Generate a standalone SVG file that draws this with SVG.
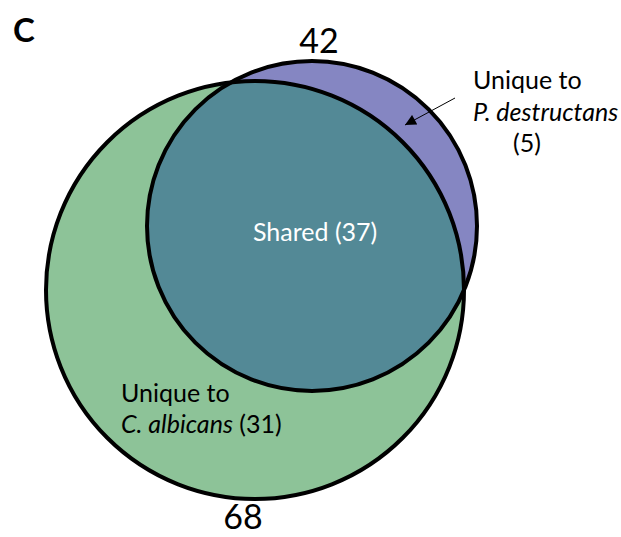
<svg xmlns="http://www.w3.org/2000/svg" width="621" height="537" viewBox="0 0 621 537">
  <style>
    .lbl { font-family: Lato, "Liberation Sans", sans-serif; font-size: 25px; fill: #000; }
    .num { font-family: Lato, "Liberation Sans", sans-serif; font-size: 34px; fill: #000; text-anchor: middle; }
    .it { font-style: italic; }
    .outline { fill: none; stroke: #000; stroke-width: 4; }
  </style>
  <defs>
    <clipPath id="clipGreen">
      <circle cx="255" cy="290" r="209"/>
    </clipPath>
    <marker id="arrow" viewBox="0 0 10 10" refX="10" refY="5" markerWidth="13" markerHeight="11" markerUnits="userSpaceOnUse" orient="auto">
      <path d="M0,0 L10,5 L0,10 Z" fill="#000"/>
    </marker>
  </defs>
  <rect width="621" height="537" fill="#fff"/>
  <text x="13" y="42" style="font-family: Lato, 'Liberation Sans', sans-serif; font-size: 33px; font-weight: bold;">C</text>

  <g id="calbicans">
    <circle cx="255" cy="290" r="209" fill="#8DC398"/>
  </g>
  <g id="pdestructans">
    <circle cx="312" cy="226" r="165" fill="#8586C2"/>
  </g>
  <g id="shared">
    <circle cx="312" cy="226" r="165" fill="#538996" clip-path="url(#clipGreen)"/>
  </g>
  <g id="outlines">
    <circle class="outline" cx="255" cy="290" r="209"/>
    <circle class="outline" cx="312" cy="226" r="165"/>
  </g>

  <g id="labels">
    <text class="num" x="319" y="53">42</text>
    <text class="num" x="243" y="529">68</text>
    <text class="lbl" x="473" y="89">Unique to</text>
    <text class="lbl it" x="473" y="121">P. destructans</text>
    <text class="lbl" x="513" y="152">(5)</text>
    <text class="lbl" x="253" y="241" style="fill:#fff">Shared (37)</text>
    <text class="lbl" x="121" y="402">Unique to</text>
    <text class="lbl" x="121" y="433"><tspan class="it">C. albicans</tspan> (31)</text>
  </g>

  <g id="connectors">
    <line x1="455" y1="98" x2="405" y2="125" stroke="#000" stroke-width="1" marker-end="url(#arrow)"/>
  </g>
</svg>
